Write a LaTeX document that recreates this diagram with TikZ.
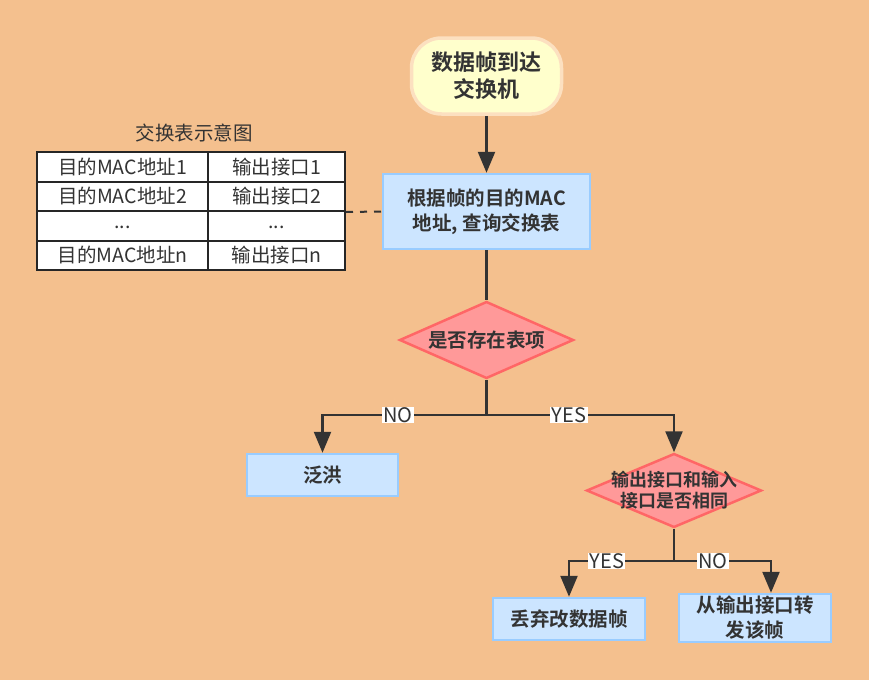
\documentclass[tikz,border=0pt]{standalone}
\usepackage{fontspec}
\setmainfont{Noto Sans CJK SC}[BoldFont={Noto Sans CJK SC Bold}]
\usetikzlibrary{shapes.geometric,arrows.meta}
\definecolor{bg}{HTML}{F4C08E}
\definecolor{ink}{HTML}{333333}
\definecolor{boxfill}{HTML}{CCE5FF}
\definecolor{boxline}{HTML}{99CCFF}
\definecolor{dfill}{HTML}{FF9999}
\definecolor{dline}{HTML}{FF6666}
\definecolor{sfill}{HTML}{FFFFCC}
\definecolor{sline}{HTML}{FCE0C0}
\tikzset{
  x=1pt,y=-1pt,
  every node/.style={text=ink},
  startbox/.style={draw=sline,line width=3.5pt,fill=sfill,rounded corners=30pt,minimum width=150pt,minimum height=76pt,align=center,font=\fontsize{22}{27}\selectfont\bfseries},
  procbox/.style={draw=boxline,line width=2.5pt,fill=boxfill,align=center,inner sep=0pt,font=\fontsize{19.5}{25}\selectfont\bfseries},
  decbox/.style={diamond,draw=dline,line width=2.5pt,fill=dfill,inner sep=0pt,aspect=2.2},
  dectext/.style={font=\fontsize{19.5}{25}\selectfont\bfseries,align=center,text=ink},
  arr/.style={draw=ink,line width=2.4pt,-{Triangle[length=21pt,width=17pt]}},
  conn/.style={draw=ink,line width=2.4pt},
  lbl/.style={fill=white,inner xsep=1.5pt,inner ysep=0.5pt,font=\fontsize{20}{20}\selectfont},
  cellA/.style={draw=black!85,line width=2pt,fill=white,minimum width=171pt,minimum height=29.5pt,inner sep=0pt,font=\fontsize{19.5}{22}\selectfont},
  cellB/.style={draw=black!85,line width=2pt,fill=white,minimum width=137pt,minimum height=29.5pt,inner sep=0pt,font=\fontsize{19.5}{22}\selectfont},
}
\begin{document}
\begin{tikzpicture}
\fill[bg] (0,0) rectangle (869,680);
\useasboundingbox (0,0) rectangle (869,680);

% table
\node[font=\fontsize{19.5}{22}\selectfont] (title) at (194,133) {交换表示意图};
\node[cellA] (a1) at (122.5,166.75) {目的MAC地址1};
\node[cellB] (b1) at (276.5,166.75) {输出接口1};
\node[cellA] (a2) at (122.5,196.25) {目的MAC地址2};
\node[cellB] (b2) at (276.5,196.25) {输出接口2};
\node[cellA] (a3) at (122.5,225.75) {\raisebox{-5pt}{...}};
\node[cellB] (b3) at (276.5,225.75) {\raisebox{-5pt}{...}};
\node[cellA] (a4) at (122.5,255.25) {目的MAC地址n};
\node[cellB] (b4) at (276.5,255.25) {输出接口n};
\coordinate (tabE) at (b2.south east);

% flow
\node[startbox] (start) at (486.5,76) {数据帧到达\\交换机};
\node[procbox,minimum width=207pt,minimum height=75pt] (look) at (486.5,211.5) {根据帧的目的MAC\\地址, 查询交换表};
\node[decbox,minimum width=174pt,minimum height=77pt,label={[dectext]center:是否存在表项}] (d1) at (486.5,340) {};
\node[procbox,minimum width=151pt,minimum height=42pt] (flood) at (322.5,475) {泛洪};
\node[decbox,minimum width=175pt,minimum height=74pt,label={[dectext,font=\fontsize{18}{21}\selectfont\bfseries]center:输出接口和输入\\接口是否相同}] (d2) at (674,490.5) {};
\node[procbox,minimum width=152pt,minimum height=42pt] (drop) at (569,619) {丢弃改数据帧};
\node[procbox,minimum width=152pt,minimum height=48pt] (fwd) at (755,618) {从输出接口转\\发该帧};

\coordinate (j1) at (486.5,415);
\coordinate (j2) at (674,561);

\draw[draw=ink,line width=2pt,dash pattern=on 7pt off 7pt] (tabE) -- (look.west);
\draw[arr] (start) -- (look);
\draw[conn] (look) -- (d1);
\draw[conn] (d1.south) -- (j1);
\draw[arr] (j1) -| node[lbl,pos=0.27]{NO} (flood.north);
\draw[arr] (j1) -| node[lbl,pos=0.22]{YES} (d2.north);
\draw[conn] (d2.south) -- (j2);
\draw[arr] (j2) -| node[lbl,pos=0.32]{YES} (drop.north);
\draw[arr] (j2) -| node[lbl,pos=0.2]{NO} ([xshift=16pt]fwd.north);
\end{tikzpicture}
\end{document}
